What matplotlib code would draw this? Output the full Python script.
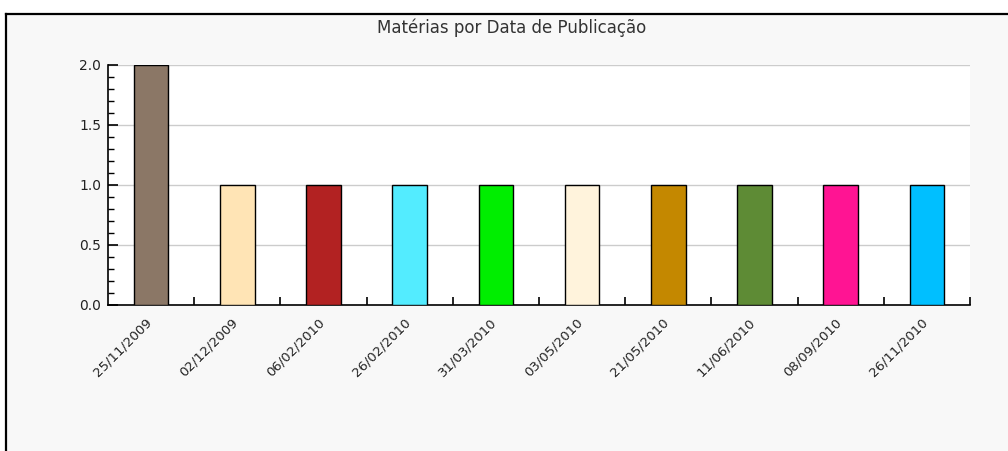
import matplotlib
matplotlib.use("Agg")
import matplotlib.pyplot as plt
import matplotlib.transforms as mtrans
from matplotlib.lines import Line2D
from matplotlib.patches import Rectangle
from matplotlib.ticker import MultipleLocator, FixedLocator

dates = ["25/11/2009", "02/12/2009", "06/02/2010", "26/02/2010", "31/03/2010",
         "03/05/2010", "21/05/2010", "11/06/2010", "08/09/2010", "26/11/2010"]
counts = [2, 1, 1, 1, 1, 1, 1, 1, 1, 1]
colors = ["#8b7766", "#ffe4b5", "#b22222", "#53ecff", "#00ee00",
          "#fff3dc", "#c48800", "#5e8b35", "#ff1493", "#00bfff"]
title = "Matérias por Data de Publicação"

fig = plt.figure(figsize=(10.08, 4.51), dpi=100, facecolor="white")
W, H = 1008, 451
# gray panel with frame
fig.patches.append(Rectangle((6 / W, 0), 1 - 6 / W, 1 - 14 / H, transform=fig.transFigure,
                             facecolor="#f8f8f8", edgecolor="none", zorder=-10))
fig.lines.append(Line2D([6 / W, 1], [1 - 14 / H, 1 - 14 / H], transform=fig.transFigure,
                        color="black", lw=1.6, zorder=-5))
fig.lines.append(Line2D([6 / W, 6 / W], [0, 1 - 14 / H], transform=fig.transFigure,
                        color="black", lw=1.6, zorder=-5))

left, right = 108 / W, 970 / W
bottom, top = 1 - 305 / H, 1 - 65 / H
ax = fig.add_axes([left, bottom, right - left, top - bottom])
ax.set_zorder(1)
ax.set_facecolor("white")

x = list(range(len(dates)))
ax.bar(x, counts, width=0.4, color=colors, edgecolor="black", linewidth=1.0, zorder=3)

ax.set_xlim(-0.5, len(dates) - 0.5)
ax.set_ylim(0, 2.0)

for s in ["top", "right"]:
    ax.spines[s].set_visible(False)
for s in ["left", "bottom"]:
    ax.spines[s].set_linewidth(1.2)
    ax.spines[s].set_color("black")

ax.yaxis.set_minor_locator(MultipleLocator(0.1))
ax.set_yticks([0, 0.5, 1.0, 1.5, 2.0])
ax.set_yticklabels(["0.0", "0.5", "1.0", "1.5", "2.0"])
ax.tick_params(axis="y", which="major", direction="in", length=7, width=1.2,
               labelsize=10, labelcolor="#222222", pad=5)
ax.tick_params(axis="y", which="minor", direction="in", length=4, width=1.0)

ax.set_xticks(x)
ax.set_xticklabels(dates, rotation=45, ha="right", rotation_mode="anchor",
                   fontsize=9.5, color="#222222")
ax.tick_params(axis="x", which="major", length=0, pad=8)
offset = mtrans.ScaledTranslation(-6 / 100, 0, fig.dpi_scale_trans)
for lbl in ax.get_xticklabels():
    lbl.set_transform(lbl.get_transform() + offset)
ax.xaxis.set_minor_locator(FixedLocator([i + 0.5 for i in x]))
ax.tick_params(axis="x", which="minor", direction="in", length=6, width=1.2)

ax.grid(axis="y", which="major", color="#cccccc", linewidth=1.0, zorder=0)
ax.set_axisbelow(True)

fig.text(512 / W, 1 - 28 / H, title, ha="center", va="center", fontsize=12, color="#333333")

fig.savefig("out.png", dpi=100, facecolor=fig.get_facecolor())
